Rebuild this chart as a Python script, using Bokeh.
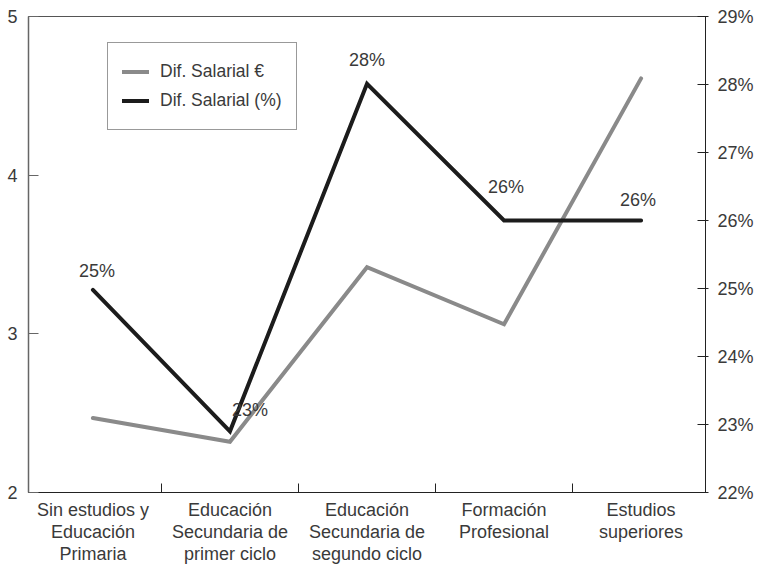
from bokeh.plotting import figure
from bokeh.models import (Range1d, LinearAxis, FixedTicker, PrintfTickFormatter,
                          Legend, LegendItem, ColumnDataSource)
from bokeh.core.properties import value
from bokeh.embed import file_html
from bokeh.resources import INLINE

# ---- data ----
categories = [
    "Sin estudios y\nEducación\nPrimaria",
    "Educación\nSecundaria de\nprimer ciclo",
    "Educación\nSecundaria de\nsegundo ciclo",
    "Formación\nProfesional",
    "Estudios\nsuperiores",
]
dif_eur = [2.47, 2.32, 3.42, 3.06, 4.61]          # left axis
dif_pct = [24.98, 22.90, 28.01, 26.0, 26.0]       # right axis (%)
pct_labels = ["25%", "23%", "28%", "26%", "26%"]
left_ticks = [2, 3, 4, 5]
right_ticks = [22, 23, 24, 25, 26, 27, 28, 29]

# label placement (styling, in screen pixels)
label_dx = [4, 20, 0, 2, -3]
label_dy = [-19, -21, -24, -34, -21]

FONT = "Liberation Sans"
TXT = "#3a3a3a"
FS = "18px"

idx = list(range(len(categories)))
src = ColumnDataSource(dict(x=idx, eur=dif_eur, pct=dif_pct, lab=pct_labels,
                            dx=label_dx, dy=label_dy))

p = figure(width=760, height=568, output_backend="svg", toolbar_location=None,
           x_range=Range1d(-0.47, len(categories) - 1 + 0.47),
           y_range=Range1d(left_ticks[0], left_ticks[-1]),
           x_axis_location=None, y_axis_location=None,
           min_border_left=28, min_border_right=55, min_border_top=16, min_border_bottom=76)
p.extra_y_ranges = {"pct": Range1d(right_ticks[0], right_ticks[-1])}
p.grid.visible = False
p.outline_line_color = "#555555"
p.outline_line_width = 1
p.background_fill_color = "white"
p.border_fill_color = "white"

# bottom axis
xa = LinearAxis(ticker=FixedTicker(ticks=idx, minor_ticks=[i + 0.5 for i in idx[:-1]]))
xa.major_label_overrides = {i: c for i, c in zip(idx, categories)}
xa.major_tick_in = 0
xa.major_tick_out = 0
xa.minor_tick_in = 9
xa.minor_tick_out = 0
xa.minor_tick_line_color = "#222222"
xa.axis_line_color = "#222222"
xa.major_label_standoff = 7
xa.major_label_text_font = FONT
xa.major_label_text_font_size = FS
xa.major_label_text_color = TXT
xa.major_label_text_line_height = 1.12
p.add_layout(xa, "below")

# left axis
ya = LinearAxis(ticker=FixedTicker(ticks=left_ticks))
ya.major_tick_in = 10
ya.major_tick_out = 0
ya.minor_tick_line_color = None
ya.axis_line_color = "#666666"
ya.axis_line_width = 1.5
ya.major_tick_line_color = "#666666"
ya.major_label_standoff = 11
ya.major_label_text_font = FONT
ya.major_label_text_font_size = FS
ya.major_label_text_color = TXT
p.add_layout(ya, "left")

# right axis
ra = LinearAxis(y_range_name="pct", ticker=FixedTicker(ticks=right_ticks),
                formatter=PrintfTickFormatter(format="%d%%"))
ra.major_tick_in = 8
ra.major_tick_out = 3
ra.minor_tick_line_color = None
ra.axis_line_color = "#222222"
ra.major_tick_line_color = "#222222"
ra.major_label_standoff = 9
ra.major_label_text_font = FONT
ra.major_label_text_font_size = FS
ra.major_label_text_color = TXT
p.add_layout(ra, "right")

# lines
r_eur = p.line("x", "eur", source=src, line_color="#8a8a8a", line_width=4,
               line_cap="round", line_join="miter")
r_pct = p.line("x", "pct", source=src, y_range_name="pct", line_color="#1c1c1c",
               line_width=4, line_cap="round", line_join="miter")

p.text("x", "pct", text="lab", source=src, y_range_name="pct",
       x_offset="dx", y_offset="dy", text_align="center", text_baseline="alphabetic",
       text_font=value(FONT), text_font_size=FS, text_color=TXT)

legend = Legend(items=[LegendItem(label="Dif. Salarial €", renderers=[r_eur]),
                       LegendItem(label="Dif. Salarial (%)", renderers=[r_pct])],
                location=(79, 362))
legend.padding = 14
legend.margin = 0
legend.glyph_width = 27
legend.glyph_height = 29
legend.label_height = 29
legend.spacing = 0
legend.label_standoff = 11
legend.label_text_font = FONT
legend.label_text_font_size = "17.5px"
legend.label_text_color = TXT
legend.border_line_color = "#333333"
legend.border_line_width = 1
legend.background_fill_color = "white"
legend.background_fill_alpha = 1
p.add_layout(legend, "center")

open("out.html", "w").write(file_html(p, INLINE))
